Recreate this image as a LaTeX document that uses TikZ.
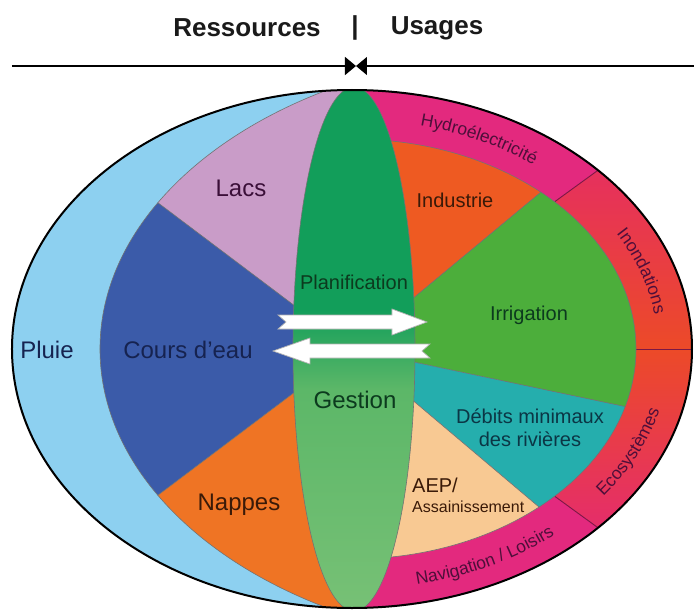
\documentclass[tikz,border=0pt]{standalone}
\usepackage{fontspec}
\setmainfont{Liberation Sans}
\usetikzlibrary{arrows.meta,decorations.text}

\definecolor{pluie}{HTML}{8DD0F0}
\definecolor{lacs}{HTML}{C99CC8}
\definecolor{cours}{HTML}{3B5BA9}
\definecolor{nappes}{HTML}{EF7424}
\definecolor{industrie}{HTML}{EE5A22}
\definecolor{irrig}{HTML}{4CAE3B}
\definecolor{debits}{HTML}{25AEAD}
\definecolor{aep}{HTML}{F8C993}
\definecolor{hydro}{HTML}{E3297E}
\definecolor{inondA}{HTML}{E6305E}
\definecolor{inondB}{HTML}{EC4A28}
\definecolor{lensA}{HTML}{129E5A}
\definecolor{lensM}{HTML}{5CB768}
\definecolor{lensB}{HTML}{78C176}
\definecolor{bandtext}{HTML}{4E0F3A}
\definecolor{labeltext}{HTML}{1E1E2E}
\definecolor{navytext}{HTML}{162350}
\definecolor{purpletext}{HTML}{3A0F38}
\definecolor{browntext}{HTML}{3A1A08}
\definecolor{greentext}{HTML}{0C3A1E}
\definecolor{tealtext}{HTML}{0B3645}
\definecolor{titletext}{HTML}{1A1A1A}

\tikzset{
  titlelbl/.style={font=\fontsize{26}{31}\selectfont\bfseries, text=titletext, inner sep=0pt},
  biglbl/.style={font=\fontsize{24}{28}\selectfont, text=labeltext, inner sep=0pt},
  midlbl/.style={font=\fontsize{20}{23}\selectfont, text=labeltext, inner sep=0pt},
  smalllbl/.style={font=\fontsize{16}{19}\selectfont, text=labeltext, inner sep=0pt},
  sectorline/.style={draw=black!55, line width=0.6pt},
  bandline/.style={draw=hydro!55!black, line width=0.9pt},
  axisline/.style={draw=black, line width=1.3pt, -{Triangle[length=11pt,width=18pt]}},
  blockarrow/.style={fill=white, draw=gray!60, line width=0.7pt, line join=miter},
  bandlabel/.style={decorate, decoration={text along path, text align=center, text color=bandtext}}
}

\begin{document}
\begin{tikzpicture}[x=1pt,y=1pt]
\useasboundingbox (-352,-262) rectangle (342,349);
\fill[white] (-352,-262) rectangle (342,349);

% title
\node[titlelbl] (res) at (-105,321) {Ressources};
\node[titlelbl] (bar) at (3,321) {|};
\node[titlelbl] (usa) at (85,321) {Usages};

% axis
\coordinate (axL) at (-340,283);
\coordinate (axM) at (4,283);
\coordinate (axR) at (342,283);
\draw[axisline] (axL) -- (axM);
\draw[axisline] (axR) -- (axM);

\begin{scope}
\clip (0,0) ellipse [x radius=340, y radius=259];
\fill[pluie] (0,0) ellipse [x radius=340, y radius=259];

% usage band
\fill[hydro] (0,0) -- (90:600) arc[start angle=90,end angle=36,radius=600] -- cycle;
\begin{scope}
  \clip (0,0) -- (36:600) arc[start angle=36,end angle=0,radius=600] -- cycle;
  \shade[top color=inondA, bottom color=inondB] (150,0) rectangle (345,180);
\end{scope}
\begin{scope}
  \clip (0,0) -- (0:600) arc[start angle=0,end angle=-36,radius=600] -- cycle;
  \shade[top color=inondB, bottom color=inondA!60!hydro] (150,-180) rectangle (345,0);
\end{scope}
\fill[hydro] (0,0) -- (-36:600) arc[start angle=-36,end angle=-90,radius=600] -- cycle;

\coordinate (d1i) at (36:250.4);
\coordinate (d1o) at (36:304.2);
\coordinate (d2i) at (0:284);
\coordinate (d2o) at (0:340);
\coordinate (d3i) at (-36:250.4);
\coordinate (d3o) at (-36:304.2);
\draw[bandline] (d1i) -- (d1o);
\draw[bandline] (d2i) -- (d2o);
\draw[bandline] (d3i) -- (d3o);

% resources sectors
\begin{scope}
  \clip (198,0) ellipse [x radius=450, y radius=298];
  \fill[lacs] (0,0) -- (90:600) arc[start angle=90,end angle=143,radius=600] -- cycle;
  \fill[cours] (0,0) -- (143:600) arc[start angle=143,end angle=217,radius=600] -- cycle;
  \fill[nappes] (0,0) -- (217:600) arc[start angle=217,end angle=270,radius=600] -- cycle;
  \draw[sectorline] (0,0) -- (143:600);
  \draw[sectorline] (0,0) -- (217:600);
\end{scope}
\draw[sectorline] (198,0) ellipse [x radius=450, y radius=298];

% usage sectors
\begin{scope}
  \clip (0,0) ellipse [x radius=284, y radius=210];
  \fill[industrie] (0,0) -- (90:600) arc[start angle=90,end angle=39.7,radius=600] -- cycle;
  \fill[irrig] (0,0) -- (39.7:600) arc[start angle=39.7,end angle=-11.9,radius=600] -- cycle;
  \fill[debits] (0,0) -- (-11.9:600) arc[start angle=-11.9,end angle=-40.2,radius=600] -- cycle;
  \fill[aep] (0,0) -- (-40.2:600) arc[start angle=-40.2,end angle=-90,radius=600] -- cycle;
  \draw[sectorline] (0,0) -- (39.7:600);
  \draw[sectorline] (0,0) -- (-11.9:600);
  \draw[sectorline] (0,0) -- (-40.2:600);
\end{scope}
\draw[sectorline] (0,210) arc[start angle=90,end angle=-90,x radius=284,y radius=210];

% central lens
\begin{scope}
  \clip (2,0) ellipse [x radius=61, y radius=262];
  \fill[lensA] (-70,40) rectangle (70,270);
  \shade[top color=lensA, bottom color=lensM] (-70,-40) rectangle (70,40);
  \shade[top color=lensM, bottom color=lensB] (-70,-270) rectangle (70,-40);
\end{scope}
\draw[sectorline] (2,0) ellipse [x radius=61, y radius=262];

% band labels
\path[bandlabel, decoration={text={|\fontsize{17.5}{20}\selectfont|Hydroélectricité}}]
  ({306*cos(84)},{229*sin(84)}) arc[start angle=84,end angle=46,x radius=306,y radius=229];
\path[bandlabel, decoration={text={|\fontsize{17.5}{20}\selectfont|Inondations}}]
  ({306*cos(38)},{229*sin(38)}) arc[start angle=38,end angle=0,x radius=306,y radius=229];
\path[bandlabel, decoration={text={|\fontsize{17.5}{20}\selectfont|Ecosystèmes}}]
  ({318*cos(-42)},{241*sin(-42)}) arc[start angle=-42,end angle=-10,x radius=318,y radius=241];
\path[bandlabel, decoration={text={|\fontsize{17.5}{20}\selectfont|Navigation / Loisirs}}]
  ({318*cos(-84)},{241*sin(-84)}) arc[start angle=-84,end angle=-44,x radius=318,y radius=241];
\end{scope}

\draw[black, line width=2pt] (0,0) ellipse [x radius=340, y radius=259];

% block arrows
\draw[blockarrow] (-74,34) -- (40,34) -- (40,40) -- (75,27) -- (40,14) -- (40,20) -- (-74,20) -- (-66,27) -- cycle;
\draw[blockarrow] (78,5) -- (-42,5) -- (-42,11) -- (-79,-2) -- (-42,-15) -- (-42,-9) -- (78,-9) -- (70,-2) -- cycle;

% labels
\node[biglbl, text=navytext] (pluie) at (-305,-1) {Pluie};
\node[biglbl, text=purpletext] (lacs) at (-111,161) {Lacs};
\node[biglbl, text=navytext] (cours) at (-164,-1) {Cours d’eau};
\node[biglbl, text=browntext] (nappes) at (-113,-156) {Nappes};
\node[midlbl, text=greentext] (plan) at (2,67) {Planification};
\node[biglbl, text=greentext] (gest) at (3,-51) {Gestion};
\node[midlbl, text=browntext] (indus) at (103,149) {Industrie};
\node[midlbl, text=greentext] (irr) at (177,34) {Irrigation};
\node[midlbl, text=tealtext, align=center, font=\fontsize{20}{23}\selectfont] (deb) at (178,-79) {Débits minimaux\\des rivières};
\node[midlbl, text=browntext, anchor=west] (aepl) at (60,-136) {AEP/};
\node[smalllbl, text=browntext, anchor=west] (ass) at (60,-158) {Assainissement};
\end{tikzpicture}
\end{document}
